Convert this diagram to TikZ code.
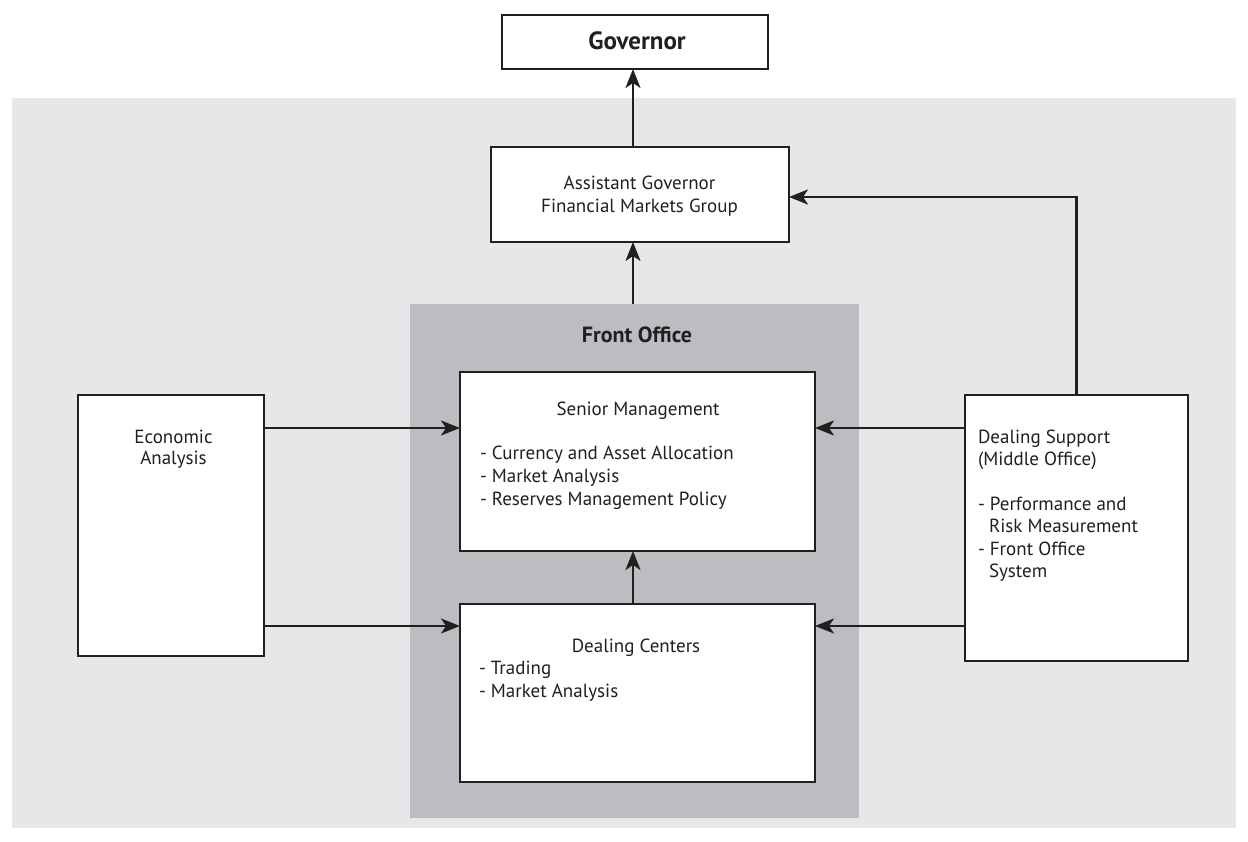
\documentclass[tikz,border=0pt]{standalone}
\usepackage{fontspec}
\setmainfont{PT Sans}
\usetikzlibrary{arrows.meta}
\definecolor{bglight}{HTML}{E6E7E9}
\definecolor{bgdark}{HTML}{BCBDC0}
\definecolor{ink}{HTML}{231F20}
\begin{document}
\begin{tikzpicture}[x=1pt,y=-1pt,
  box/.style={draw=ink, line width=2.4pt, fill=white, rectangle, inner sep=0pt, outer sep=0pt},
  arr/.style={draw=ink, line width=2.4pt, -{Stealth[length=19pt,width=15pt,inset=5pt]}},
  txt/.style={inner sep=0pt, outer sep=0pt, text=ink, font=\fontsize{19}{23}\selectfont},
  btxt/.style={inner sep=0pt, outer sep=0pt, text=ink, font=\fontsize{22}{26}\selectfont\bfseries}
]
\useasboundingbox (0,0) rectangle (1248,842);
% backgrounds
\node[fill=bglight, minimum width=1224pt, minimum height=730pt, inner sep=0pt] (bg) at (624,463) {};
\node[fill=bgdark, minimum width=449pt, minimum height=514pt, inner sep=0pt] (fo) at (634.5,561) {};
% boxes
\node[box, minimum width=266pt, minimum height=54pt] (gov) at (635,42) {};
\node[box, minimum width=298pt, minimum height=95pt] (asst) at (640,194.5) {};
\node[box, minimum width=355pt, minimum height=179pt] (sm) at (637.5,461.5) {};
\node[box, minimum width=355pt, minimum height=178pt] (dc) at (637.5,693) {};
\node[box, minimum width=186pt, minimum height=261pt] (econ) at (171,525.5) {};
\node[box, minimum width=223pt, minimum height=266pt] (ds) at (1076.5,528) {};
% helper coordinates
\coordinate (cx) at (633,0);
\coordinate (r1) at (0,428);
\coordinate (r2) at (0,626);
\coordinate (r0) at (0,197);
% texts
\node[btxt, anchor=base, font=\fontsize{25}{28}\selectfont\bfseries] (govt) at (637,50) {Governor};
\node[txt, anchor=base] (asst1) at (639.5,190) {Assistant Governor};
\node[txt, anchor=base] (asst2) at (639.5,213) {Financial Markets Group};
\node[btxt, anchor=base] (fot) at (637,343) {Front Office};
\node[txt, anchor=base] (sm0) at (638,415) {Senior Management};
\node[txt, anchor=base west] (sm1) at (480,459) {- Currency and Asset Allocation};
\node[txt, anchor=base west] (sm2) at (480,482) {- Market Analysis};
\node[txt, anchor=base west] (sm3) at (480,505) {- Reserves Management Policy};
\node[txt, anchor=base] (dc0) at (636,652) {Dealing Centers};
\node[txt, anchor=base west] (dc1) at (479,674) {- Trading};
\node[txt, anchor=base west] (dc2) at (479,697) {- Market Analysis};
\node[txt, anchor=base] (ec1) at (173.5,443) {Economic};
\node[txt, anchor=base] (ec2) at (173.5,464) {Analysis};
\node[txt, anchor=base west] (ds1) at (978,443) {Dealing Support};
\node[txt, anchor=base west] (ds2) at (978,465) {(Middle Office)};
\node[txt, anchor=base west] (ds3) at (978,510) {- Performance and};
\node[txt, anchor=base west] (ds4) at (989,532) {Risk Measurement};
\node[txt, anchor=base west] (ds5) at (978,555) {- Front Office};
\node[txt, anchor=base west] (ds6) at (989,577) {System};
% connectors
\draw[arr] (asst.north -| cx) -- (gov.south -| cx);
\draw[arr] (fo.north -| cx) -- (asst.south -| cx);
\draw[arr] (dc.north -| cx) -- (sm.south -| cx);
\draw[arr] (econ.east |- r1) -- (sm.west |- r1);
\draw[arr] (econ.east |- r2) -- (dc.west |- r2);
\draw[arr] (ds.west |- r1) -- (sm.east |- r1);
\draw[arr] (ds.west |- r2) -- (dc.east |- r2);
\draw[arr] (ds.north) -- (ds.north |- r0) -- (asst.east |- r0);
\end{tikzpicture}
\end{document}
